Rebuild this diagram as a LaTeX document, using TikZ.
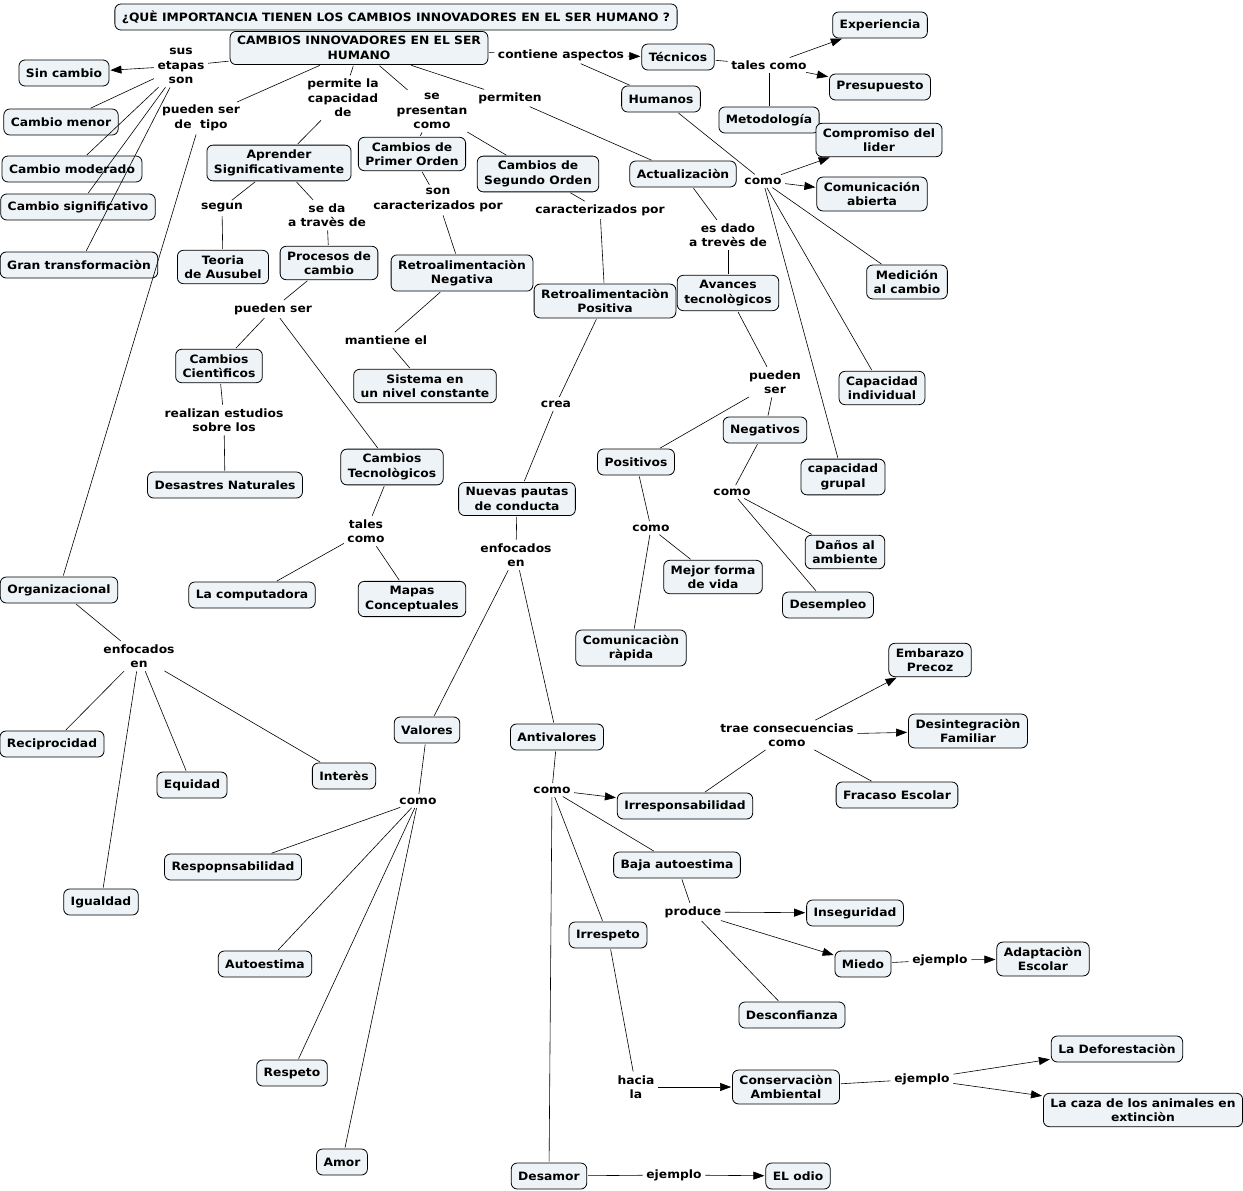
\documentclass[tikz,border=0pt]{standalone}
\usepackage{fontspec}
\setmainfont{DejaVu Sans}[FakeStretch=1.07]
\usetikzlibrary{arrows.meta}
\definecolor{cfill}{RGB}{237,243,246}
\begin{document}
\begin{tikzpicture}[x=1pt,y=-1pt,
  every node/.style={font=\fontsize{11.5}{14.5}\selectfont\bfseries},
  concept/.style={draw, rounded corners=6pt, fill=cfill, line width=0.8pt, align=center, inner xsep=7pt, inner ysep=5pt, minimum height=26pt},
  lp/.style={align=center, inner sep=2.5pt},
  ln/.style={line width=0.6pt, shorten <=1pt, shorten >=1pt},
  arr/.style={ln, -{Triangle[length=11pt,width=8pt]}}]
\useasboundingbox (0,0) rectangle (1243,1191);
% concepts
\node[concept] (title) at (396,17) {¿QUÈ IMPORTANCIA TIENEN LOS CAMBIOS INNOVADORES EN EL SER HUMANO ?};
\node[concept] (main) at (359,48) {CAMBIOS INNOVADORES EN EL SER\\HUMANO};
\node[concept] (sin) at (64,73) {Sin cambio};
\node[concept] (menor) at (61,122) {Cambio menor};
\node[concept] (moder) at (72,169) {Cambio moderado};
\node[concept] (signif) at (78,207) {Cambio significativo};
\node[concept] (gran) at (79,265) {Gran transformaciòn};
\node[concept] (aprender) at (279,163) {Aprender\\Significativamente};
\node[concept] (primer) at (412,154) {Cambios de\\Primer Orden};
\node[concept] (segundo) at (538,174) {Cambios de\\Segundo Orden};
\node[concept] (tecnicos) at (678,57) {Técnicos};
\node[concept] (humanos) at (661,99) {Humanos};
\node[concept] (exper) at (880,25) {Experiencia};
\node[concept] (presup) at (880,87) {Presupuesto};
\node[concept] (metod) at (769,120) {Metodología};
\node[concept] (compr) at (879,140) {Compromiso del\\lider};
\node[concept] (comab) at (872,194) {Comunicación\\abierta};
\node[concept] (actual) at (683,174) {Actualizaciòn};
\node[concept] (medic) at (907,282) {Medición\\al cambio};
\node[concept] (capind) at (882,388) {Capacidad\\individual};
\node[concept] (capgru) at (843,477) {capacidad\\grupal};
\node[concept] (teoria) at (223,267) {Teoria\\de Ausubel};
\node[concept] (procesos) at (329,263) {Procesos de\\cambio};
\node[concept] (retroneg) at (462,273) {Retroalimentaciòn\\Negativa};
\node[concept] (retropos) at (605,301) {Retroalimentaciòn\\Positiva};
\node[concept] (avances) at (728,293) {Avances\\tecnològicos};
\node[concept] (cient) at (219,366) {Cambios\\Cientìficos};
\node[concept] (sistema) at (425,386) {Sistema en\\un nivel constante};
\node[concept] (desast) at (225,485) {Desastres Naturales};
\node[concept] (ctecno) at (392,467) {Cambios\\Tecnològicos};
\node[concept] (positivos) at (636,462) {Positivos};
\node[concept] (negativos) at (765,430) {Negativos};
\node[concept] (nuevas) at (517,499) {Nuevas pautas\\de conducta};
\node[concept] (danos) at (845,552) {Daños al\\ambiente};
\node[concept] (desemp) at (828,605) {Desempleo};
\node[concept] (compu) at (252,595) {La computadora};
\node[concept] (mapas) at (412,599) {Mapas\\Conceptuales};
\node[concept] (mejor) at (713,577) {Mejor forma\\de vida};
\node[concept] (comrap) at (631,648) {Comunicaciòn\\ràpida};
\node[concept] (organ) at (59,590) {Organizacional};
\node[concept] (recip) at (52,744) {Reciprocidad};
\node[concept] (equidad) at (192,785) {Equidad};
\node[concept] (interes) at (344,776) {Interès};
\node[concept] (igualdad) at (101,902) {Igualdad};
\node[concept] (valores) at (427,730) {Valores};
\node[concept] (antival) at (557,737) {Antivalores};
\node[concept] (embarazo) at (930,660) {Embarazo\\Precoz};
\node[concept] (desint) at (968,731) {Desintegraciòn\\Familiar};
\node[concept] (fracaso) at (897,795) {Fracaso Escolar};
\node[concept] (irresp) at (685,806) {Irresponsabilidad};
\node[concept] (baja) at (677,865) {Baja autoestima};
\node[concept] (respon) at (233,867) {Respopnsabilidad};
\node[concept] (insegur) at (855,913) {Inseguridad};
\node[concept] (miedo) at (863,964) {Miedo};
\node[concept] (adapt) at (1043,959) {Adaptaciòn\\Escolar};
\node[concept] (irrespeto) at (608,935) {Irrespeto};
\node[concept] (desconf) at (792,1015) {Desconfianza};
\node[concept] (autoest) at (265,964) {Autoestima};
\node[concept] (respeto) at (292,1073) {Respeto};
\node[concept] (amor) at (342,1162) {Amor};
\node[concept] (conserv) at (786,1087) {Conservaciòn\\Ambiental};
\node[concept] (defor) at (1117,1049) {La Deforestaciòn};
\node[concept] (caza) at (1143,1110) {La caza de los animales en\\extinciòn};
\node[concept] (desamor) at (549,1176) {Desamor};
\node[concept] (odio) at (798,1176) {EL odio};
% linking phrases
\node[lp] (l1) at (181,66) {sus\\etapas\\son};
\node[lp] (l2) at (561,55) {contiene aspectos};
\node[lp] (l3) at (769,65) {tales como};
\node[lp] (l4) at (343,98) {permite la\\capacidad\\de};
\node[lp] (l5) at (432,111) {se\\presentan\\como};
\node[lp] (l6) at (510,98) {permiten};
\node[lp] (l7) at (201,118) {pueden ser\\de\ \ tipo};
\node[lp] (l8) at (763,181) {como};
\node[lp] (l9) at (222,208) {segun};
\node[lp] (l10) at (327,215) {se da\\a travès de};
\node[lp] (l11) at (438,200) {son\\caracterizados por};
\node[lp] (l12) at (600,210) {caracterizados por};
\node[lp] (l13) at (728,235) {es dado\\a trevès de};
\node[lp] (l14) at (273,309) {pueden ser};
\node[lp] (l15) at (386,340) {mantiene el};
\node[lp] (l16) at (224,420) {realizan estudios\\sobre los};
\node[lp] (l17) at (556,404) {crea};
\node[lp] (l18) at (775,382) {pueden\\ser};
\node[lp] (l19) at (366,531) {tales\\como};
\node[lp] (l20) at (732,492) {como};
\node[lp] (l21) at (651,528) {como};
\node[lp] (l22) at (516,555) {enfocados\\en};
\node[lp] (l23) at (139,656) {enfocados\\en};
\node[lp] (l24) at (418,801) {como};
\node[lp] (l25) at (552,790) {como};
\node[lp] (l26) at (787,735) {trae consecuencias\\como};
\node[lp] (l27) at (693,912) {produce};
\node[lp] (l28) at (940,960) {ejemplo};
\node[lp] (l29) at (636,1087) {hacia\\la};
\node[lp] (l30) at (922,1079) {ejemplo};
\node[lp] (l31) at (674,1175) {ejemplo};
% connectors
\draw[ln] (main) -- (l1);
\draw[arr] (l1) -- (sin);
\draw[ln] (l1) -- (menor);
\draw[ln] (l1) -- (moder);
\draw[ln] (l1) -- (signif);
\draw[ln] (l1) -- (gran);
\draw[ln] (main) -- (l2);
\draw[arr] (l2) -- (tecnicos);
\draw[ln] (l2) -- (humanos);
\draw[ln] (tecnicos) -- (l3);
\draw[arr] (l3) -- (exper);
\draw[arr] (l3) -- (presup);
\draw[ln] (l3) -- (metod);
\draw[ln] (main) -- (l4);
\draw[ln] (l4) -- (aprender);
\draw[ln] (main) -- (l5);
\draw[ln] (l5) -- (primer);
\draw[ln] (l5) -- (segundo);
\draw[ln] (main) -- (l6);
\draw[ln] (l6) -- (actual);
\draw[ln] (main) -- (l7);
\draw[ln] (l7) -- (organ);
\draw[ln] (humanos) -- (l8);
\draw[arr] (l8) -- (compr);
\draw[arr] (l8) -- (comab);
\draw[ln] (l8) -- (medic);
\draw[ln] (l8) -- (capind);
\draw[ln] (l8) -- (capgru);
\draw[ln] (aprender) -- (l9);
\draw[ln] (l9) -- (teoria);
\draw[ln] (aprender) -- (l10);
\draw[ln] (l10) -- (procesos);
\draw[ln] (primer) -- (l11);
\draw[ln] (l11) -- (retroneg);
\draw[ln] (segundo) -- (l12);
\draw[ln] (l12) -- (retropos);
\draw[ln] (actual) -- (l13);
\draw[ln] (l13) -- (avances);
\draw[ln] (procesos) -- (l14);
\draw[ln] (l14) -- (cient);
\draw[ln] (l14) -- (ctecno);
\draw[ln] (retroneg) -- (l15);
\draw[ln] (l15) -- (sistema);
\draw[ln] (cient) -- (l16);
\draw[ln] (l16) -- (desast);
\draw[ln] (retropos) -- (l17);
\draw[ln] (l17) -- (nuevas);
\draw[ln] (avances) -- (l18);
\draw[ln] (l18) -- (positivos);
\draw[ln] (l18) -- (negativos);
\draw[ln] (ctecno) -- (l19);
\draw[ln] (l19) -- (compu);
\draw[ln] (l19) -- (mapas);
\draw[ln] (negativos) -- (l20);
\draw[ln] (l20) -- (danos);
\draw[ln] (l20) -- (desemp);
\draw[ln] (positivos) -- (l21);
\draw[ln] (l21) -- (mejor);
\draw[ln] (l21) -- (comrap);
\draw[ln] (nuevas) -- (l22);
\draw[ln] (l22) -- (valores);
\draw[ln] (l22) -- (antival);
\draw[ln] (organ) -- (l23);
\draw[ln] (l23) -- (recip);
\draw[ln] (l23) -- (equidad);
\draw[ln] (l23) -- (interes);
\draw[ln] (l23) -- (igualdad);
\draw[ln] (valores) -- (l24);
\draw[ln] (l24) -- (respon);
\draw[ln] (l24) -- (autoest);
\draw[ln] (l24) -- (respeto);
\draw[ln] (l24) -- (amor);
\draw[ln] (antival) -- (l25);
\draw[arr] (l25) -- (irresp);
\draw[ln] (l25) -- (baja);
\draw[ln] (l25) -- (irrespeto);
\draw[ln] (l25) -- (desamor);
\draw[ln] (irresp) -- (l26);
\draw[arr] (l26) -- (embarazo);
\draw[arr] (l26) -- (desint);
\draw[ln] (l26) -- (fracaso);
\draw[ln] (baja) -- (l27);
\draw[arr] (l27) -- (insegur);
\draw[arr] (l27) -- (miedo);
\draw[ln] (l27) -- (desconf);
\draw[ln] (miedo) -- (l28);
\draw[arr] (l28) -- (adapt);
\draw[ln] (irrespeto) -- (l29);
\draw[arr] (l29) -- (conserv);
\draw[ln] (conserv) -- (l30);
\draw[arr] (l30) -- (defor);
\draw[arr] (l30) -- (caza);
\draw[ln] (desamor) -- (l31);
\draw[arr] (l31) -- (odio);
\end{tikzpicture}
\end{document}
